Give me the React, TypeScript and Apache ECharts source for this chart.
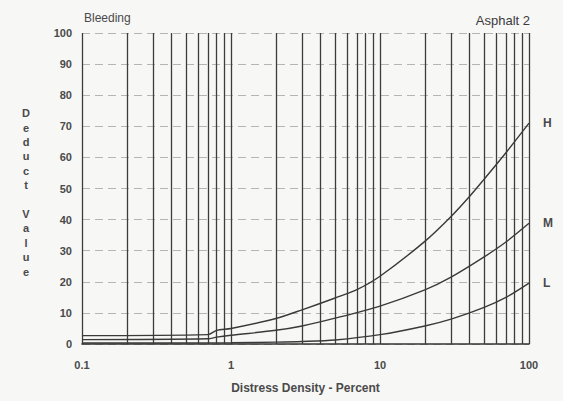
import React, { useEffect, useRef } from "react";
import * as echarts from "echarts";

const xTickLabels = ["0.1", "1", "10", "100"];
const yTicks = [0, 10, 20, 30, 40, 50, 60, 70, 80, 90, 100];
const minorGridX = [
  0.2, 0.3, 0.4, 0.5, 0.6, 0.7, 0.8, 0.9,
  2, 3, 4, 5, 6, 7, 8, 9,
  20, 30, 40, 50, 60, 70, 80, 90,
];
const seriesNames = ["H", "M", "L"];
const densityH = [0.1, 0.7, 0.8, 1, 2, 3, 5, 7, 10, 20, 30, 40, 50, 70, 100];
const valuesH = [2.7, 3.0, 4.4, 5, 8.2, 11, 14.8, 17.5, 21.8, 33, 41, 47.5, 53, 61.5, 71];
const densityM = [0.1, 0.7, 0.8, 1, 2, 3, 5, 10, 20, 30, 50, 70, 100];
const valuesM = [1.4, 1.7, 2.2, 2.8, 4.4, 5.8, 8.3, 12.2, 17.4, 21.5, 28, 32.8, 38.8];
const densityL = [0.1, 1, 2, 3, 5, 10, 20, 30, 50, 70, 100];
const valuesL = [0.3, 0.4, 0.6, 0.8, 1.3, 3.0, 5.8, 8.0, 11.8, 15, 19.6];

export default function App() {
  const ref = useRef<HTMLDivElement>(null);
  useEffect(() => {
    if (!ref.current) return;
    const chart = echarts.init(ref.current, null, { renderer: "svg" });
    const textColor = "#4a4a4a";
    const font = "Liberation Sans, Arial, sans-serif";
    const mk = (xs: number[], ys: number[]) => xs.map((x, i) => [x, ys[i]]);
    const lineSeries = (name: string, data: number[][]) => ({
      name,
      type: "line",
      data,
      smooth: 0.3,
      showSymbol: false,
      symbol: "none",
      lineStyle: { color: "#3a3a3a", width: 1.4 },
      endLabel: {
        show: true,
        formatter: name,
        distance: 14,
        color: textColor,
        fontSize: 12,
        fontWeight: "bold",
        fontFamily: font,
      },
      z: 5,
    });
    chart.setOption({
      animation: false,
      backgroundColor: "#f7f7f6",
      grid: { left: 82, right: 34, top: 33, bottom: 57 },
      graphic: [
        {
          type: "text",
          left: 84,
          top: 12,
          style: { text: "Bleeding", fill: textColor, font: `12px ${font}` },
        },
        {
          type: "text",
          right: 33,
          top: 14,
          style: { text: "Asphalt 2", fill: "#3a3a3a", font: `13px ${font}` },
        },
        {
          type: "text",
          x: 26,
          y: 106,
          style: {
            text: "D\ne\nd\nu\nc\nt\n\nV\na\nl\nu\ne",
            fill: textColor,
            font: `bold 11px ${font}`,
            align: "center",
            lineHeight: 14.4,
          },
        },
      ],
      xAxis: {
        type: "log",
        logBase: 10,
        min: 0.1,
        max: 100,
        name: "Distress Density - Percent",
        nameLocation: "middle",
        nameGap: 38,
        nameTextStyle: { color: textColor, fontSize: 12, fontWeight: "bold", fontFamily: font },
        axisLine: { show: true, lineStyle: { color: "#333", width: 1.6 } },
        axisTick: { show: false },
        axisLabel: {
          color: textColor,
          fontSize: 11,
          fontWeight: "bold",
          fontFamily: font,
          margin: 15,
          formatter: (v: number) => {
            const s = String(Math.round(v * 10) / 10);
            return xTickLabels.includes(s) ? s : "";
          },
        },
        splitLine: { show: true, lineStyle: { color: "#3c3c3c", width: 1.3 } },
      },
      yAxis: {
        type: "value",
        min: yTicks[0],
        max: yTicks[yTicks.length - 1],
        interval: 10,
        axisLine: { show: false },
        axisTick: { show: false },
        axisLabel: {
          color: textColor,
          fontSize: 11,
          fontWeight: "bold",
          fontFamily: font,
          margin: 10,
        },
        splitLine: { show: true, lineStyle: { color: "#b5b5b5", width: 1, type: [8, 5] } },
      },
      series: [
        {
          name: "grid",
          type: "line",
          data: [],
          silent: true,
          markLine: {
            silent: true,
            symbol: "none",
            label: { show: false },
            lineStyle: { color: "#3c3c3c", width: 1.3, type: "solid" },
            data: minorGridX.map((x) => ({ xAxis: x })),
          },
        },
        lineSeries(seriesNames[0], mk(densityH, valuesH)),
        lineSeries(seriesNames[1], mk(densityM, valuesM)),
        lineSeries(seriesNames[2], mk(densityL, valuesL)),
      ],
    });
    return () => chart.dispose();
  }, []);
  return (
    <div
      ref={ref}
      style={{ position: "fixed", left: 0, top: 0, width: 563, height: 401 }}
    />
  );
}
